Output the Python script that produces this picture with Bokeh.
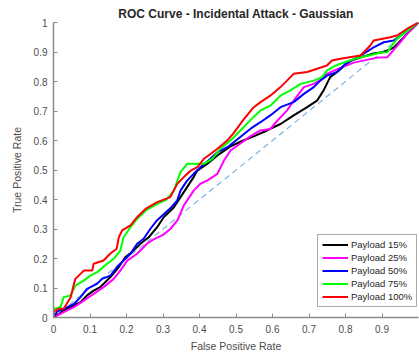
from bokeh.plotting import figure
from bokeh.models import Legend, LegendItem, FixedTicker, Range1d
from bokeh.embed import file_html
from bokeh.resources import INLINE

# ---- data ----
labels = ["Payload 15%", "Payload 25%", "Payload 50%", "Payload 75%", "Payload 100%"]
colors = ["#000000", "#ff00ff", "#0000ff", "#00ff00", "#ff0000"]

fpr_15 = [0, 0.015, 0.028, 0.056, 0.074, 0.092, 0.11, 0.128, 0.156, 0.179, 0.197, 0.215, 0.238, 0.261, 0.284,
          0.302, 0.33, 0.366, 0.384, 0.394, 0.42, 0.45, 0.485, 0.52, 0.55, 0.585, 0.622, 0.658, 0.695, 0.722,
          0.74, 0.758, 0.777, 0.814, 0.877, 0.905, 0.932, 0.97, 1.0]
tpr_15 = [0, 0.012, 0.024, 0.041, 0.052, 0.075, 0.091, 0.103, 0.137, 0.171, 0.205, 0.222, 0.25, 0.272, 0.306,
          0.34, 0.374, 0.442, 0.476, 0.498, 0.52, 0.55, 0.58, 0.6, 0.615, 0.634, 0.656, 0.685, 0.713, 0.735,
          0.77, 0.815, 0.832, 0.871, 0.895, 0.9, 0.915, 0.963, 1.0]

fpr_25 = [0, 0.028, 0.056, 0.083, 0.11, 0.137, 0.165, 0.183, 0.202, 0.229, 0.256, 0.274, 0.3, 0.32, 0.34,
          0.357, 0.384, 0.403, 0.421, 0.449, 0.467, 0.485, 0.512, 0.54, 0.567, 0.594, 0.613, 0.64, 0.658, 0.686,
          0.713, 0.736, 0.749, 0.768, 0.822, 0.888, 0.914, 0.95, 0.97, 1.0]
tpr_25 = [0, 0.018, 0.035, 0.057, 0.08, 0.103, 0.131, 0.159, 0.193, 0.216, 0.25, 0.265, 0.28, 0.3, 0.33,
          0.38, 0.43, 0.454, 0.464, 0.487, 0.532, 0.566, 0.59, 0.615, 0.634, 0.639, 0.667, 0.702, 0.735, 0.781,
          0.792, 0.809, 0.826, 0.837, 0.864, 0.881, 0.882, 0.933, 0.963, 1.0]

fpr_50 = [0, 0.01, 0.028, 0.056, 0.074, 0.092, 0.119, 0.133, 0.156, 0.174, 0.192, 0.211, 0.229, 0.247, 0.265,
          0.284, 0.302, 0.32, 0.339, 0.348, 0.366, 0.384, 0.403, 0.43, 0.449, 0.48, 0.51, 0.54, 0.567, 0.594,
          0.622, 0.658, 0.686, 0.713, 0.731, 0.749, 0.777, 0.8, 0.841, 0.877, 0.905, 0.932, 0.97, 1.0]
tpr_50 = [0, 0.02, 0.029, 0.046, 0.069, 0.097, 0.114, 0.131, 0.142, 0.171, 0.193, 0.216, 0.25, 0.267, 0.3,
          0.33, 0.35, 0.37, 0.397, 0.43, 0.464, 0.487, 0.51, 0.538, 0.56, 0.58, 0.61, 0.64, 0.662, 0.685,
          0.713, 0.73, 0.758, 0.781, 0.803, 0.82, 0.832, 0.86, 0.888, 0.916, 0.933, 0.939, 0.973, 1.0]

fpr_75 = [0, 0, 0.019, 0.028, 0.047, 0.06, 0.083, 0.101, 0.119, 0.147, 0.165, 0.183, 0.192, 0.211, 0.229,
          0.252, 0.284, 0.31, 0.33, 0.348, 0.366, 0.412, 0.435, 0.457, 0.485, 0.512, 0.54, 0.567, 0.594, 0.622,
          0.649, 0.677, 0.713, 0.736, 0.749, 0.772, 0.786, 0.833, 0.87, 0.896, 0.914, 0.941, 0.96, 1.0]
tpr_75 = [0, 0.029, 0.035, 0.069, 0.075, 0.108, 0.125, 0.142, 0.153, 0.182, 0.199, 0.227, 0.272, 0.306, 0.334,
          0.362, 0.385, 0.40, 0.431, 0.493, 0.521, 0.521, 0.538, 0.572, 0.6, 0.634, 0.67, 0.702, 0.718, 0.752,
          0.77, 0.792, 0.803, 0.815, 0.837, 0.854, 0.86, 0.88, 0.89, 0.898, 0.899, 0.945, 0.963, 1.0]

fpr_100 = [0, 0, 0.015, 0.028, 0.047, 0.056, 0.06, 0.083, 0.106, 0.11, 0.137, 0.155, 0.173, 0.179, 0.188,
           0.211, 0.229, 0.252, 0.284, 0.32, 0.339, 0.357, 0.376, 0.394, 0.412, 0.431, 0.449, 0.476, 0.493,
           0.52, 0.548, 0.567, 0.594, 0.622, 0.658, 0.695, 0.722, 0.749, 0.763, 0.786, 0.841, 0.868, 0.877,
           0.923, 0.941, 0.968, 1.0]
tpr_100 = [0, 0.02, 0.03, 0.03, 0.069, 0.114, 0.131, 0.159, 0.159, 0.182, 0.193, 0.216, 0.233, 0.272, 0.295,
           0.312, 0.34, 0.368, 0.391, 0.408, 0.453, 0.476, 0.498, 0.51, 0.538, 0.555, 0.572, 0.6, 0.624,
           0.67, 0.712, 0.73, 0.752, 0.781, 0.826, 0.832, 0.843, 0.854, 0.871, 0.877, 0.888, 0.922, 0.939,
           0.95, 0.956, 0.978, 1.0]

chance_x = [0, 1]
chance_y = [0, 1]

x_ticks = [0, 0.1, 0.2, 0.3, 0.4, 0.5, 0.6, 0.7, 0.8, 0.9]
y_ticks = [0, 0.1, 0.2, 0.3, 0.4, 0.5, 0.6, 0.7, 0.8, 0.9, 1.0]

series = [(fpr_15, tpr_15), (fpr_25, tpr_25), (fpr_50, tpr_50), (fpr_75, tpr_75), (fpr_100, tpr_100)]

FONT = "Liberation Sans"
AXIS_COL = "#8a8a8a"
TEXT_COL = "#4d4d4d"

p = figure(width=419, height=356, output_backend="svg", toolbar_location=None,
           x_range=Range1d(0, 1), y_range=Range1d(0, 1),
           min_border_left=53, min_border_right=1, min_border_top=22, min_border_bottom=39)

p.title.text = "ROC Curve - Incidental Attack - Gaussian"
p.title.align = "center"
p.title.text_font = FONT
p.title.text_font_size = "12px"
p.title.text_font_style = "bold"
p.title.text_color = "#262626"
p.title.offset = 0
p.title.standoff = 3

p.grid.visible = False
p.outline_line_color = None
p.background_fill_color = "white"
p.border_fill_color = "white"

p.xaxis.ticker = FixedTicker(ticks=x_ticks)
p.yaxis.ticker = FixedTicker(ticks=y_ticks)
for ax in (p.xaxis, p.yaxis):
    ax.axis_line_color = AXIS_COL
    ax.axis_line_width = 1.5
    ax.major_tick_line_color = AXIS_COL
    ax.major_tick_in = 4
    ax.major_tick_out = 0
    ax.minor_tick_line_color = None
    ax.major_label_text_font = FONT
    ax.major_label_text_font_size = "10px"
    ax.major_label_text_color = TEXT_COL
    ax.axis_label_text_font = FONT
    ax.axis_label_text_font_size = "10.5px"
    ax.axis_label_text_color = TEXT_COL
    ax.axis_label_text_font_style = "normal"

p.xaxis.axis_label = "False Positive Rate"
p.yaxis.axis_label = "True Positive Rate"
p.xaxis.major_label_standoff = 7
p.yaxis.major_label_standoff = 6
p.xaxis.axis_label_standoff = 4
p.yaxis.axis_label_standoff = 8

p.line(chance_x, chance_y, line_color="#7fb3e0", line_width=1.2, line_dash="6 4")

items = []
for (xs, ys), lab, col in zip(series, labels, colors):
    r = p.line(xs, ys, line_color=col, line_width=2)
    items.append(LegendItem(label=lab, renderers=[r]))

legend = Legend(items=items, location=(264, 10))
legend.label_text_font = FONT
legend.label_text_font_size = "9.5px"
legend.label_text_color = "#262626"
legend.label_height = 11
legend.label_standoff = 3
legend.glyph_width = 26
legend.glyph_height = 11
legend.spacing = 2
legend.padding = 4
legend.margin = 0
legend.border_line_color = "#555555"
legend.border_line_width = 1
legend.background_fill_alpha = 1
p.add_layout(legend, "center")

open("out.html", "w").write(file_html(p, INLINE))
